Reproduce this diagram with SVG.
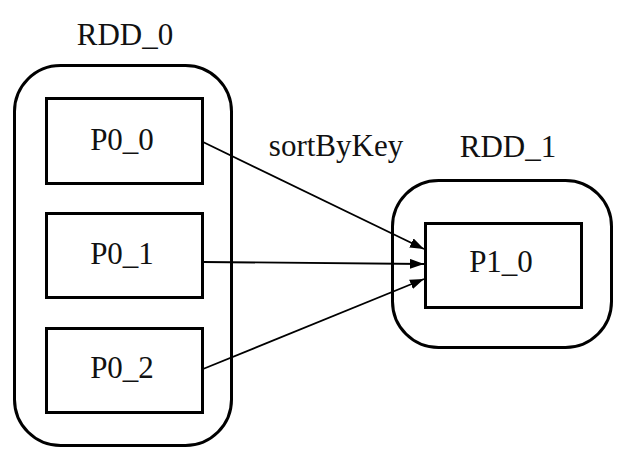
<svg xmlns="http://www.w3.org/2000/svg" width="626" height="459" viewBox="0 0 626 459">
<defs>
<style>
.cluster{fill:none;stroke:#000;stroke-width:3}
.node{fill:#fff;stroke:#000;stroke-width:3}
.lbl{font-family:"Liberation Serif","Times New Roman",serif;font-size:31px;fill:#111;text-anchor:middle}
.edge{fill:none;stroke:#000;stroke-width:1.8}
</style>
<marker id="arr" markerWidth="14" markerHeight="10" refX="14" refY="5" orient="auto" markerUnits="userSpaceOnUse" viewBox="0 0 14 10">
<path d="M0,0 L14,5 L0,10 Z" fill="#000"/>
</marker>
</defs>
<rect width="626" height="459" fill="#fff"/>
<g id="RDD_0">
<rect class="cluster" x="14.5" y="65.5" width="217" height="380" rx="46" ry="46"/>
<text class="lbl" x="125" y="45">RDD_0</text>
</g>
<g id="RDD_1">
<rect class="cluster" x="392.5" y="180.5" width="219" height="167" rx="46" ry="46"/>
<text class="lbl" x="508" y="157">RDD_1</text>
</g>
<g id="P0_0">
<rect class="node" x="46.5" y="98.5" width="156" height="85"/>
<text class="lbl" x="122" y="150">P0_0</text>
</g>
<g id="P0_1">
<rect class="node" x="46.5" y="213.5" width="156" height="84"/>
<text class="lbl" x="122" y="264">P0_1</text>
</g>
<g id="P0_2">
<rect class="node" x="46.5" y="328.5" width="156" height="84"/>
<text class="lbl" x="122" y="378">P0_2</text>
</g>
<g id="P1_0">
<rect class="node" x="425.5" y="223.5" width="156" height="84"/>
<text class="lbl" x="501" y="272">P1_0</text>
</g>
<g id="edges">
<line class="edge" x1="203" y1="142" x2="424" y2="249" marker-end="url(#arr)"/>
<line class="edge" x1="203" y1="262" x2="424" y2="264" marker-end="url(#arr)"/>
<line class="edge" x1="203" y1="369" x2="424" y2="279" marker-end="url(#arr)"/>
<text class="lbl" x="336" y="156">sortByKey</text>
</g>
</svg>
